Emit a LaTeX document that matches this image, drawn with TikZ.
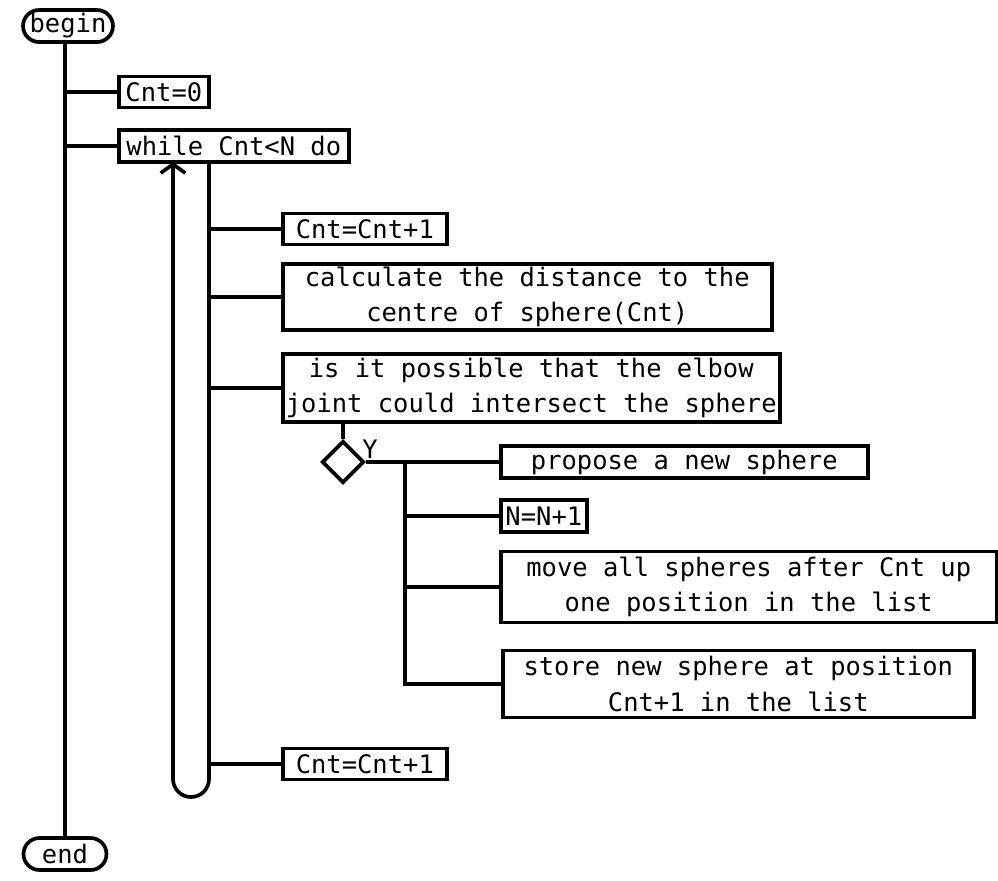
\documentclass[tikz,border=0pt]{standalone}
\usepackage{fontspec}
\setmonofont{DejaVu Sans Mono}
\usetikzlibrary{shapes.geometric,shapes.misc,arrows.meta}
\begin{document}
\begin{tikzpicture}[x=0.02cm, y=-0.02cm, line width=2.1pt,
    box/.style={draw, anchor=west, align=center, inner sep=1pt, font=\fontsize{14.5}{20}\selectfont\ttfamily},
    pill/.style={draw, rounded rectangle, minimum height=0.64cm, inner sep=2pt, font=\fontsize{14.5}{20}\selectfont\ttfamily}]
    \useasboundingbox (0,0) rectangle (998,880);
    % start / stop
    \node[pill, minimum width=1.94cm] (begin) at (68,26) {begin};
    \node[pill, minimum width=1.8cm] (end) at (65,854) {end};
    % statements
    \node[box, minimum width=1.8cm, minimum height=0.62cm] (c0) at (117,92) {Cnt=0};
    \node[box, minimum width=4.6cm, minimum height=0.64cm] (wh) at (117,146) {while Cnt<N do};
    \node[box, minimum width=3.28cm, minimum height=0.62cm] (inc1) at (281,229) {Cnt=Cnt+1};
    \node[box, minimum width=9.78cm, minimum height=1.32cm] (calc) at (281,297) {calculate the distance to the\\centre of sphere(Cnt)};
    \node[box, minimum width=9.94cm, minimum height=1.36cm] (test) at (281,388) {is it possible that the elbow\\joint could intersect the sphere};
    \node[box, minimum width=7.34cm, minimum height=0.64cm] (prop) at (499,462) {propose a new sphere};
    \node[box, minimum width=1.72cm, minimum height=0.64cm] (nn) at (499,516) {N=N+1};
    \node[box, minimum width=9.92cm, minimum height=1.42cm] (move) at (499,587) {move all spheres after Cnt up\\one position in the list};
    \node[box, minimum width=9.42cm, minimum height=1.34cm] (store) at (501,684) {store new sphere at position\\Cnt+1 in the list};
    \node[box, minimum width=3.28cm, minimum height=0.62cm] (inc2) at (281,764) {Cnt=Cnt+1};
    \node[draw, diamond, minimum size=0.84cm, inner sep=0pt] (dia) at (343,462) {};
    \node[font=\fontsize{14.5}{20}\selectfont\ttfamily] (yes) at (370,449) {Y};
    % main spine
    \draw (begin.south -| end.north) -- (end.north);
    \foreach \n in {c0,wh} \draw (\n.west -| end.north) -- (\n.west);
    % loop body
    \coordinate (lpL) at (173,162); \coordinate (lpR) at (209,162);
    \draw[rounded corners=0.36cm, -{Straight Barb[length=5pt,width=14pt]}] (lpR) -- (209,797) -- (173,797) -- (lpL);
    \foreach \n in {inc1,calc,test,inc2} \draw (\n.west -| lpR) -- (\n.west);
    % decision branch
    \draw (dia.north |- test.south) -- (dia.north);
    \draw (dia.east) -- (prop.west);
    \coordinate (br) at (405,462);
    \draw (br) -- (br |- store.west) -- (store.west);
    \foreach \n in {nn,move} \draw (\n.west -| br) -- (\n.west);
\end{tikzpicture}
\end{document}
